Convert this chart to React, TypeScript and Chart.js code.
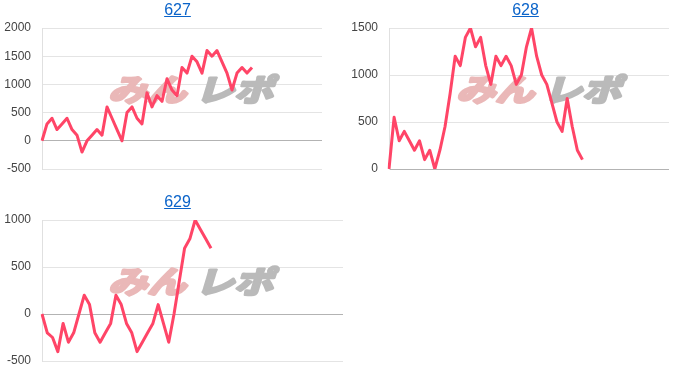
import React, { useEffect, useRef } from "react";
import { Chart, registerables } from "chart.js";

Chart.register(...registerables);

// ---- data ----
const titles = ["627", "628", "629"];
const labelCounts = [57, 56, 58];
const series627 = [0, 300, 400, 200, 300, 400, 200, 100, -200, 0, 100, 200, 100, 600, 400, 200, 0, 500, 600, 400, 300, 850, 600, 800, 700, 1100, 900, 800, 1300, 1200, 1500, 1400, 1200, 1600, 1500, 1600, 1400, 1200, 900, 1200, 1300, 1200, 1300];
const series628 = [0, 550, 300, 400, 300, 200, 300, 100, 200, 0, 200, 450, 800, 1200, 1100, 1400, 1500, 1300, 1400, 1100, 900, 1200, 1100, 1200, 1100, 900, 1000, 1300, 1500, 1200, 1000, 900, 700, 500, 400, 750, 450, 200, 100];
const series629 = [0, -200, -250, -400, -100, -300, -200, 0, 200, 100, -200, -300, -200, -100, 200, 100, -100, -200, -400, -300, -200, -100, 100, -100, -300, 0, 350, 700, 800, 1000, 900, 800, 700];
const yMins = [-500, 0, -500];
const yMaxs = [2000, 1500, 1000];
const yStep = 500;
const watermarkParts = ["みん", "レポ"];

const allSeries = [series627, series628, series629];

const CANVAS_W = 347;
const PANEL_H = 190;

const watermarkPlugin = {
  id: "watermark",
  beforeDatasetsDraw(chart: any) {
    const ctx = chart.ctx as CanvasRenderingContext2D;
    const cx = 194;
    const cy = 89;
    ctx.save();
    ctx.font = "bold 32px 'Noto Sans CJK JP'";
    ctx.textBaseline = "middle";
    ctx.textAlign = "left";
    const drawPart = (text: string, x: number, color: string) => {
      ctx.save();
      ctx.translate(x, cy);
      ctx.transform(1, 0, -0.3, 1, 0, 0);
      ctx.scale(1.22, 0.95);
      ctx.fillStyle = color;
      ctx.strokeStyle = color;
      ctx.lineWidth = 3;
      ctx.lineJoin = "round";
      ctx.strokeText(text, 0, 1);
      ctx.fillText(text, 0, 1);
      ctx.restore();
    };
    drawPart(watermarkParts[0], cx - 82, "rgb(234,184,184)");
    drawPart(watermarkParts[1], cx + 5, "rgb(186,186,186)");
    ctx.restore();
  },
};

type PanelProps = {
  idx: number;
  left: number;
  top: number;
  axisW: number;
  padRight: number;
};

function Panel({ idx, left, top, axisW, padRight }: PanelProps) {
  const ref = useRef<HTMLCanvasElement | null>(null);
  useEffect(() => {
    if (!ref.current) return;
    const n = labelCounts[idx];
    const labels = Array.from({ length: n }, (_, i) => String(i + 1));
    const chart = new Chart(ref.current, {
      type: "line",
      data: {
        labels,
        datasets: [
          {
            data: allSeries[idx],
            borderColor: "#ff4567",
            borderWidth: 3,
            pointRadius: 0,
            tension: 0,
            fill: false,
            borderJoinStyle: "round",
          } as any,
        ],
      },
      options: {
        animation: false,
        responsive: false,
        events: [],
        layout: { padding: { top: 28, bottom: 21, left: 0, right: padRight } },
        plugins: {
          legend: { display: false },
          tooltip: { enabled: false },
          title: { display: false },
        },
        scales: {
          x: { display: false, offset: false },
          y: {
            min: yMins[idx],
            max: yMaxs[idx],
            ticks: {
              stepSize: yStep,
              color: "#444",
              font: { family: "Arial, 'Liberation Sans'", size: 12 },
              padding: 11,
              callback: (v: any) => String(v),
            },
            grid: {
              color: (c: any) => (c.tick && c.tick.value === 0 ? "#b3b3b3" : "#e4e4e4"),
              drawTicks: false,
            },
            border: { color: "#e0e0e0" },
            afterFit: (s: any) => {
              s.width = axisW;
            },
          } as any,
        },
      },
      plugins: [watermarkPlugin],
    });
    return () => chart.destroy();
  }, [idx]);

  return (
    <div style={{ position: "absolute", left, top, width: CANVAS_W, height: PANEL_H }}>
      <canvas ref={ref} width={CANVAS_W} height={PANEL_H} style={{ position: "absolute", left: 0, top: 0 }} />
      <div
        style={{
          position: "absolute",
          left: 8,
          top: 1,
          width: 339,
          textAlign: "center",
          fontFamily: "Arial, 'Liberation Sans', sans-serif",
          fontSize: 16,
          lineHeight: "18px",
        }}
      >
        <a href="#" style={{ color: "#0a63c9", textDecoration: "underline" }}>
          {titles[idx]}
        </a>
      </div>
    </div>
  );
}

export default function App() {
  return (
    <div>
      <Panel idx={0} left={0} top={0} axisW={42} padRight={25} />
      <Panel idx={1} left={348} top={0} axisW={41} padRight={26} />
      <Panel idx={2} left={0} top={192} axisW={42} padRight={4} />
    </div>
  );
}
